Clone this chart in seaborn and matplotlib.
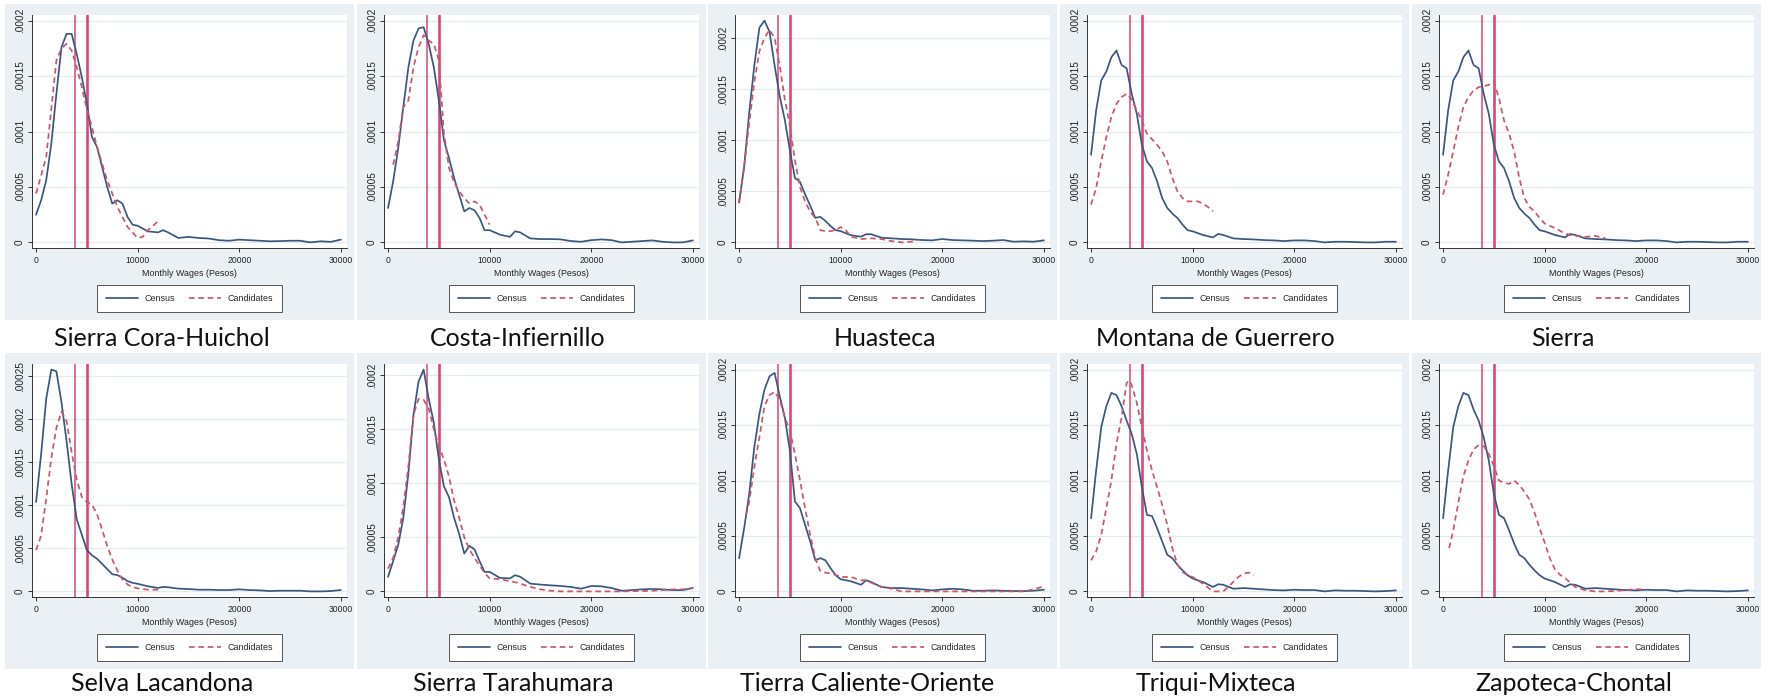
import numpy as np
import pandas as pd
import matplotlib
matplotlib.use("Agg")
import matplotlib.pyplot as plt
from matplotlib.lines import Line2D
from matplotlib.ticker import FuncFormatter, FixedLocator
import seaborn as sns

sns.set_theme(style="white")
plt.rcParams['font.family'] = ['Liberation Sans', 'DejaVu Sans']

# ---------------- data (densities in units of 1e-5) ----------------
REGIONS = ["Sierra Cora-Huichol", "Costa-Infiernillo", "Huasteca",
           "Montana de Guerrero", "Sierra",
           "Selva Lacandona", "Sierra Tarahumara", "Tierra Caliente-Oriente",
           "Triqui-Mixteca", "Zapoteca-Chontal"]
SERIES = ["Census", "Candidates"]
X_LABEL = "Monthly Wages (Pesos)"
X_TICKS = [0, 10000, 20000, 30000]
REF_WAGES = [3800, 5000]   # vertical reference lines
DENSITY_UNIT = 1e-5
Y_TICK_STEP = 5            # in 1e-5 units
Y_TOP_TICK = [20, 20, 20, 20, 20, 25, 20, 20, 20, 20]  # highest labelled tick

CENSUS_WAGES = [0, 500, 1000, 1500, 2000, 2500, 3000, 3500, 4000, 4500, 5000,
                5500, 6000, 6500, 7000, 7500, 8000, 8500, 9000, 9500, 10000,
                11000, 12000, 12500, 13000, 14000, 15000, 16000, 17000, 18000,
                19000, 20000, 21000, 22000, 23000, 24000, 25000, 26000, 27000,
                28000, 29000, 30000]

census_cora = [2.5, 3.8, 5.6, 8.9, 13.4, 17.6, 18.8, 18.8, 17.0, 14.9, 12.5,
               9.5, 8.6, 6.8, 5.0, 3.5, 3.8, 3.5, 2.3, 1.6, 1.5,
               1.0, 0.9, 1.1, 0.9, 0.4, 0.5, 0.4, 0.35, 0.2, 0.15,
               0.25, 0.2, 0.15, 0.1, 0.12, 0.15, 0.15, 0.0, 0.1, 0.05, 0.25]
cand_cora_x = [0, 1000, 1500, 2000, 2500, 3000, 3500, 4000, 4500, 5000, 5500,
               6000, 7000, 8000, 9000, 10000, 10500, 11000, 12000]
cand_cora = [4.4, 7.7, 12.0, 16.4, 17.5, 17.9, 17.3, 15.8, 14.0, 12.0, 10.4,
             8.6, 5.6, 3.2, 1.4, 0.4, 0.5, 1.1, 1.9]

census_costa = [3.1, 5.5, 8.5, 12.2, 15.8, 18.2, 19.3, 19.4, 17.9, 15.8, 12.8,
                9.2, 7.6, 5.8, 4.3, 2.8, 3.1, 2.9, 2.2, 1.1, 1.1,
                0.7, 0.5, 1.0, 0.9, 0.36, 0.3, 0.3, 0.27, 0.12, 0.06,
                0.2, 0.27, 0.2, 0.0, 0.06, 0.12, 0.18, 0.06, 0.0, 0.0, 0.18]
cand_costa_x = [500, 1000, 1500, 2000, 2500, 3000, 3500, 4000, 4500, 5000,
                5500, 6000, 6500, 7000, 7500, 8000, 8500, 9000, 9500, 10000]
cand_costa = [7.0, 9.1, 12.2, 12.8, 15.8, 17.6, 18.7, 18.2, 17.9, 16.4,
              9.8, 6.7, 5.4, 4.6, 4.0, 3.5, 3.7, 3.4, 2.5, 1.6]

census_huasteca = [3.9, 7.4, 12.7, 17.3, 21.0, 21.7, 20.6, 17.3, 14.3, 12.0, 9.0,
                   6.3, 5.9, 4.7, 3.6, 2.4, 2.5, 2.1, 1.6, 1.2, 1.1,
                   0.7, 0.56, 0.8, 0.8, 0.46, 0.4, 0.33, 0.3, 0.23, 0.2,
                   0.33, 0.23, 0.2, 0.17, 0.13, 0.17, 0.23, 0.07, 0.1, 0.07, 0.2]
cand_huasteca_x = [0, 500, 1000, 1500, 2000, 2500, 3000, 3500, 4000, 4500,
                   5000, 5500, 6000, 6500, 7000, 7500, 8000, 8500, 9000, 9500,
                   10000, 10500, 11000, 12000, 13000, 14000, 15000, 16000,
                   17000, 17500]
cand_huasteca = [3.9, 7.4, 11.7, 15.7, 18.7, 20.0, 20.8, 20.0, 17.3, 14.0,
                 11.4, 8.0, 5.4, 4.0, 3.0, 2.4, 1.2, 1.1, 1.1, 1.2,
                 1.5, 1.2, 0.56, 0.33, 0.4, 0.33, 0.13, 0.0, 0.07, 0.23]

census_montana = [7.9, 11.9, 14.6, 15.4, 16.7, 17.3, 16.0, 15.7, 13.4, 11.6, 8.8,
                  7.3, 6.7, 5.5, 4.0, 3.1, 2.6, 2.2, 1.6, 1.1, 1.0,
                  0.67, 0.45, 0.76, 0.67, 0.36, 0.3, 0.27, 0.21, 0.18, 0.12,
                  0.18, 0.18, 0.12, 0.0, 0.06, 0.06, 0.03, 0.0, 0.0, 0.06, 0.06]
cand_montana_x = [0, 500, 1000, 1500, 2000, 2500, 3000, 3500, 4000, 4500,
                  5000, 5500, 6000, 6500, 7000, 7500, 8000, 8500, 9000, 9500,
                  10000, 10500, 11000, 11500, 12000]
cand_montana = [3.4, 4.9, 7.3, 9.5, 11.3, 12.5, 13.1, 13.4, 12.9, 11.9,
                11.0, 9.8, 9.3, 8.8, 8.2, 7.3, 5.8, 4.6, 4.0, 3.7,
                3.7, 3.7, 3.5, 3.2, 2.8]

census_sierra = [7.9, 11.9, 14.6, 15.4, 16.7, 17.3, 16.0, 15.7, 13.4, 11.6, 8.8,
                 7.3, 6.7, 5.5, 4.0, 3.1, 2.6, 2.2, 1.6, 1.1, 1.0,
                 0.67, 0.45, 0.76, 0.67, 0.36, 0.3, 0.27, 0.21, 0.18, 0.12,
                 0.18, 0.18, 0.12, 0.0, 0.06, 0.06, 0.03, 0.0, 0.0, 0.06, 0.06]
cand_sierra_x = [0, 500, 1000, 1500, 2000, 2500, 3000, 3500, 4000, 4500,
                 5000, 5500, 6000, 6500, 7000, 7500, 8000, 8500, 9000, 9500,
                 10000, 11000, 12000, 12500, 13000, 14000, 15000, 16000]
cand_sierra = [4.3, 6.1, 8.2, 10.4, 12.2, 13.1, 13.7, 14.0, 14.1, 14.2,
               14.5, 13.0, 11.0, 9.8, 8.2, 5.8, 4.0, 3.2, 2.8, 2.2,
               1.7, 1.3, 0.8, 0.67, 0.6, 0.5, 0.58, 0.36]

census_selva = [10.4, 16.0, 22.4, 25.8, 25.6, 22.0, 17.5, 12.5, 8.4, 6.6, 4.8,
                4.2, 3.8, 3.2, 2.6, 2.0, 1.9, 1.6, 1.2, 1.0, 0.88,
                0.6, 0.4, 0.52, 0.48, 0.32, 0.28, 0.2, 0.2, 0.16, 0.16,
                0.24, 0.16, 0.12, 0.04, 0.08, 0.08, 0.08, 0.0, 0.0, 0.04, 0.16]
cand_selva_x = [0, 500, 1000, 1500, 2000, 2500, 3000, 3500, 4000, 4500, 5000,
                5500, 6000, 6500, 7000, 7500, 8000, 8500, 9000, 9500, 10000,
                11000, 12000]
cand_selva = [4.8, 6.5, 10.8, 15.5, 19.0, 20.9, 19.8, 16.2, 13.0, 11.0, 10.4,
              10.1, 9.0, 7.2, 5.3, 3.7, 2.4, 1.4, 0.8, 0.5, 0.35,
              0.2, 0.2]

census_tarahumara = [1.35, 2.8, 4.3, 6.8, 10.9, 16.3, 19.4, 20.5, 17.8, 15.6, 12.2,
                     9.7, 8.7, 6.8, 5.3, 3.5, 4.2, 3.9, 2.8, 1.8, 1.8,
                     1.25, 1.2, 1.5, 1.35, 0.72, 0.63, 0.56, 0.5, 0.41, 0.25,
                     0.5, 0.47, 0.31, 0.06, 0.12, 0.19, 0.22, 0.19, 0.12, 0.12, 0.31]
cand_tarahumara_x = CENSUS_WAGES
cand_tarahumara = [2.1, 3.1, 5.0, 7.8, 11.6, 16.3, 17.8, 17.7, 16.9, 15.0, 13.4,
                   12.2, 10.6, 8.4, 6.8, 5.0, 3.9, 3.1, 2.4, 1.7, 1.2,
                   1.13, 0.94, 0.85, 0.72, 0.41, 0.19, 0.06, 0.0, 0.0, 0.0,
                   0.0, 0.0, 0.0, 0.0, 0.03, 0.03, 0.06, 0.12, 0.19, 0.19, 0.31]

census_tierra = [3.0, 5.7, 8.8, 13.0, 16.0, 18.2, 19.4, 19.7, 17.6, 15.7, 12.7,
                 8.1, 7.5, 6.0, 4.5, 2.8, 3.0, 2.8, 2.1, 1.46, 1.1,
                 0.91, 0.6, 1.0, 0.85, 0.4, 0.3, 0.3, 0.24, 0.18, 0.09,
                 0.18, 0.24, 0.18, 0.06, 0.06, 0.09, 0.06, 0.03, 0.03, 0.06, 0.15]
cand_tierra_x = [700, 1000, 1500, 2000, 2500, 3000, 3500, 4000, 4500, 5000,
                 5500, 6000, 6500, 7000, 7500, 8000, 8500, 9000, 9500, 10000,
                 11000, 12000, 12500, 13000, 14000, 15000, 16000, 17000, 18000,
                 19000, 20000, 21000, 22000, 23000, 24000, 25000, 26000, 27000,
                 28000, 29000, 30000]
cand_tierra = [6.9, 8.1, 11.2, 13.9, 16.7, 17.7, 18.0, 17.3, 15.7, 14.5,
               12.4, 10.0, 7.5, 5.1, 3.0, 1.8, 1.7, 1.6, 1.5, 1.3,
               1.3, 1.0, 1.0, 0.79, 0.4, 0.24, 0.0, 0.0, 0.0,
               0.0, 0.0, 0.0, 0.0, 0.0, 0.0, 0.0, 0.0, 0.0,
               0.0, 0.18, 0.46]

census_triqui = [6.6, 10.9, 14.8, 16.7, 17.9, 17.7, 16.7, 15.4, 14.2, 12.4, 9.4,
                 6.9, 6.8, 5.7, 4.5, 3.3, 3.0, 2.4, 1.9, 1.46, 1.16,
                 0.85, 0.4, 0.64, 0.6, 0.24, 0.3, 0.24, 0.18, 0.12, 0.09,
                 0.15, 0.12, 0.12, 0.0, 0.09, 0.06, 0.06, 0.03, 0.0, 0.03, 0.09]
cand_triqui_x = [0, 500, 1000, 1500, 2000, 2500, 3000, 3500, 3800, 4000, 4500,
                 5000, 5500, 6000, 6500, 7000, 7500, 8000, 8500, 9000, 9500,
                 10000, 11000, 12000, 12500, 13000, 13500, 14000, 14500, 15000,
                 15500, 16000]
cand_triqui = [2.8, 3.6, 5.1, 7.5, 10.0, 13.3, 15.7, 18.8, 19.0, 18.6, 17.0,
               14.8, 12.7, 10.9, 9.4, 7.8, 6.0, 3.9, 2.4, 1.76, 1.46,
               1.3, 0.7, 0.0, 0.0, 0.0, 0.4, 0.85, 1.3, 1.6,
               1.7, 1.46]

census_zapoteca = [6.6, 10.9, 14.8, 16.7, 17.9, 17.7, 16.4, 15.4, 13.9, 11.8, 8.8,
                   6.9, 6.6, 5.5, 4.3, 3.3, 3.0, 2.4, 1.9, 1.46, 1.16,
                   0.85, 0.4, 0.64, 0.6, 0.24, 0.3, 0.24, 0.18, 0.12, 0.09,
                   0.15, 0.12, 0.12, 0.0, 0.09, 0.06, 0.06, 0.03, 0.0, 0.03, 0.09]
cand_zapoteca_x = [600, 1000, 1500, 2000, 2500, 3000, 3500, 4000, 4500, 5000,
                   5500, 6000, 6500, 7000, 7500, 8000, 8500, 9000, 9500, 10000,
                   10500, 11000, 11500, 12000, 13000, 14000, 15000, 16000,
                   17000, 18000, 19000, 20000]
cand_zapoteca = [3.9, 5.5, 8.0, 10.4, 11.8, 12.8, 13.2, 13.1, 12.4, 11.3,
                 10.0, 9.8, 9.7, 10.0, 9.6, 9.0, 8.3, 7.1, 5.7, 4.4,
                 3.0, 2.0, 1.5, 1.2, 0.4, 0.1, 0.0, 0.0,
                 0.05, 0.12, 0.2, 0.15]

CENSUS = [census_cora, census_costa, census_huasteca, census_montana, census_sierra,
          census_selva, census_tarahumara, census_tierra, census_triqui, census_zapoteca]
CAND_X = [cand_cora_x, cand_costa_x, cand_huasteca_x, cand_montana_x, cand_sierra_x,
          cand_selva_x, cand_tarahumara_x, cand_tierra_x, cand_triqui_x, cand_zapoteca_x]
CAND_Y = [cand_cora, cand_costa, cand_huasteca, cand_montana, cand_sierra,
          cand_selva, cand_tarahumara, cand_tierra, cand_triqui, cand_zapoteca]

# ---------------- style / layout ----------------
W, H = 1772, 700
BG = "#eaf0f3"
NAVY = "#3a587e"
MAROON = "#c5596a"
VLINE = "#d9487a"
GRID = "#e4ebef"
AXC = "#333333"

PANEL_LEFT = [5, 357, 708, 1060, 1412]
PANEL_W = 349
ROW_TOP = [4, 353]
PANEL_H = 316
AX_DX, AX_W = 27, 315
AX_DY, AX_H = 11, 233
TITLE_X = [[162, 518, 885, 1215, 1563], [162, 513, 867, 1216, 1574]]
TITLE_BASE = [346, 691]

fig = plt.figure(figsize=(W / 100, H / 100), dpi=100)
fig.patch.set_facecolor("white")


def ytick_fmt(v, pos):
    if abs(v) < 1e-12:
        return "0"
    s = f"{v:.5f}".rstrip("0")
    return s[1:] if s.startswith("0") else s


for i, region in enumerate(REGIONS):
    r, c = divmod(i, 5)
    gx, gy = PANEL_LEFT[c], ROW_TOP[r]
    # gray graph region drawn as a background axes
    bg_ax = fig.add_axes([gx / W, 1 - (gy + PANEL_H) / H, PANEL_W / W, PANEL_H / H])
    bg_ax.set_facecolor(BG)
    bg_ax.set_xticks([])
    bg_ax.set_yticks([])
    for s in bg_ax.spines.values():
        s.set_visible(False)
    bg_ax.set_zorder(0)

    ax = fig.add_axes([(gx + AX_DX) / W, 1 - (gy + AX_DY + AX_H) / H, AX_W / W, AX_H / H])
    ax.set_zorder(1)
    ax.set_facecolor("white")

    cen = np.array(CENSUS[i]) * DENSITY_UNIT
    cy = np.array(CAND_Y[i]) * DENSITY_UNIT
    df = pd.concat([
        pd.DataFrame({"wage": CENSUS_WAGES, "density": cen, "series": SERIES[0]}),
        pd.DataFrame({"wage": CAND_X[i], "density": cy, "series": SERIES[1]}),
    ], ignore_index=True)

    for xv, lw in zip(REF_WAGES, [1.1, 1.9]):
        ax.axvline(xv, color=VLINE, lw=lw, zorder=1.5)

    sns.lineplot(data=df, x="wage", y="density", hue="series", style="series",
                 palette={SERIES[0]: NAVY, SERIES[1]: MAROON},
                 dashes={SERIES[0]: "", SERIES[1]: (3.2, 2.2)},
                 linewidth=1.25, estimator=None, legend=False, ax=ax, zorder=3)

    ticks = np.arange(0, Y_TOP_TICK[i] + 0.01, Y_TICK_STEP) * DENSITY_UNIT
    top = max(cen.max(), cy.max(), ticks[-1])
    pad = top * 5.6 / (AX_H - 11.2)
    ax.set_ylim(-pad, top + pad)
    ax.set_xlim(-400, 30600)
    ax.yaxis.set_major_locator(FixedLocator(ticks))
    ax.yaxis.set_major_formatter(FuncFormatter(ytick_fmt))
    ax.xaxis.set_major_locator(FixedLocator(X_TICKS))
    ax.grid(axis="y", color=GRID, lw=0.9)
    ax.grid(axis="x", visible=False)
    for s in ["top", "right"]:
        ax.spines[s].set_visible(False)
    for s in ["left", "bottom"]:
        ax.spines[s].set_color(AXC)
        ax.spines[s].set_linewidth(0.7)
    ax.tick_params(axis="both", which="major", direction="out", length=3,
                   width=0.7, color=AXC, labelcolor="#222222",
                   left=True, bottom=True)
    ax.tick_params(axis="y", labelrotation=90, pad=2, labelsize=7.2)
    ax.tick_params(axis="x", pad=3, labelsize=6.2)
    for t in ax.get_yticklabels():
        t.set_va("center")
    ax.set_xlabel(X_LABEL, fontsize=6.4, color="#222222", labelpad=2.5)
    ax.set_ylabel("")

    handles = [Line2D([], [], color=NAVY, lw=1.25),
               Line2D([], [], color=MAROON, lw=1.25, dashes=(3.2, 2.2))]
    leg = ax.legend(handles, SERIES, loc="upper center",
                    bbox_to_anchor=(0.5, -(285 - 248) / AX_H), ncol=2,
                    frameon=True, fancybox=False, framealpha=1,
                    edgecolor="#555555", facecolor="white", fontsize=6.4,
                    handlelength=3.6, handletextpad=0.7, columnspacing=1.6,
                    borderpad=1.0, borderaxespad=0)
    leg.get_frame().set_linewidth(0.7)

    fig.text(TITLE_X[r][c] / W, 1 - TITLE_BASE[r] / H, region, ha="center",
             va="baseline", fontsize=18, family=["Lato", "DejaVu Sans"],
             color="#111111")

fig.savefig("out.png", dpi=100, facecolor="white")
